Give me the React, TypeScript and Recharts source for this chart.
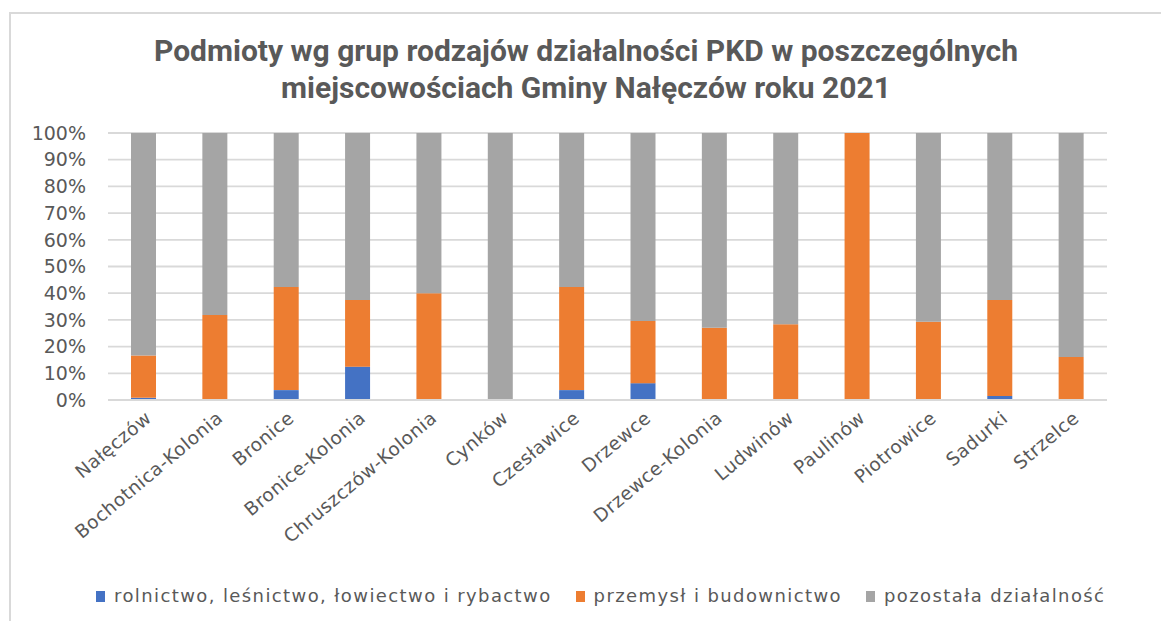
import React from 'react';
import { BarChart, Bar, XAxis, YAxis, CartesianGrid } from 'recharts';

const categories = ['Nałęczów', 'Bochotnica-Kolonia', 'Bronice', 'Bronice-Kolonia', 'Chruszczów-Kolonia', 'Cynków', 'Czesławice', 'Drzewce', 'Drzewce-Kolonia', 'Ludwinów', 'Paulinów', 'Piotrowice', 'Sadurki', 'Strzelce'];
const rolnictwo = [0.8, 0, 3.7, 12.5, 0, 0, 3.7, 6.3, 0, 0, 0, 0, 1.5, 0];
const przemysl = [15.9, 31.8, 38.6, 25, 40, 0, 38.6, 23.3, 27.1, 28.4, 100, 29.3, 36, 16.1];
const pozostala = [83.3, 68.2, 57.7, 62.5, 60, 100, 57.7, 70.4, 72.9, 71.6, 0, 70.7, 62.5, 83.9];
const yTicks = [0, 10, 20, 30, 40, 50, 60, 70, 80, 90, 100];

const seriesNames = ['rolnictwo, leśnictwo, łowiectwo i rybactwo', 'przemysł i budownictwo', 'pozostała działalność'];
const seriesKeys = ['rolnictwo', 'przemysl', 'pozostala'];
const seriesColors = ['#4472C4', '#ED7D31', '#A5A5A5'];

const titleLines = ['Podmioty wg grup rodzajów działalności PKD w poszczególnych', 'miejscowościach Gminy Nałęczów roku 2021'];

const data = categories.map((c, i) => ({
  name: c,
  rolnictwo: rolnictwo[i],
  przemysl: przemysl[i],
  pozostala: pozostala[i],
}));

const TEXT = '#595959';
const FONT = 'DejaVu Sans';

const XTick = (props: any) => {
  const { x, y, payload } = props;
  return (
    <g transform={`translate(${x + 9},${y + 12})`}>
      <text textAnchor="end" transform="rotate(-40)" fill={TEXT} fontSize={18.5} fontFamily={FONT} letterSpacing={0.5}>
        {payload.value}
      </text>
    </g>
  );
};

export default function App() {
  return (
    <div style={{ position: 'absolute', left: 0, top: 0, width: 1161, height: 621, background: '#fff', overflow: 'hidden' }}>
      <div style={{ position: 'absolute', left: 9, top: 12, width: 1200, height: 700, borderLeft: '2px solid #d9d9d9', borderTop: '2px solid #d9d9d9' }} />
      <svg width={1161} height={120} style={{ position: 'absolute', left: 0, top: 0 }}>
        {titleLines.map((t, i) => (
          <text key={i} x={586} y={61 + i * 37} textAnchor="middle" fill={TEXT} fontSize={30} fontWeight="bold" fontFamily="Roboto">
            {t}
          </text>
        ))}
      </svg>
      <div style={{ position: 'absolute', left: 0, top: 0 }}>
        <BarChart width={1161} height={621} data={data} margin={{ top: 133, right: 54, bottom: 0, left: 10 }} barSize={25}>
          <CartesianGrid vertical={false} stroke="#d9d9d9" strokeWidth={1.8} />
          <XAxis dataKey="name" interval={0} tick={<XTick />} tickLine={false} axisLine={{ stroke: '#d9d9d9', strokeWidth: 1.8 }} height={221} />
          <YAxis domain={[0, 100]} ticks={yTicks} interval={0} tickFormatter={(v: number) => `${v}%`} axisLine={false} tickLine={false} width={98} tickMargin={16} tick={{ fill: TEXT, fontSize: 19, fontFamily: FONT }} />
          {seriesKeys.map((k, i) => (
            <Bar key={k} dataKey={k} name={seriesNames[i]} stackId="a" fill={seriesColors[i]} isAnimationActive={false} />
          ))}
        </BarChart>
      </div>
      <div style={{ position: 'absolute', left: 96, top: 584, display: 'flex', fontFamily: FONT, fontSize: 18, color: TEXT, lineHeight: '24px', letterSpacing: '1.4px', whiteSpace: 'nowrap' }}>
        {seriesNames.map((n, i) => (
          <div key={n} style={{ display: 'flex', alignItems: 'center', marginRight: 24 }}>
            <span style={{ display: 'inline-block', width: 9, height: 11, background: seriesColors[i], marginRight: 9 }} />
            <span>{n}</span>
          </div>
        ))}
      </div>
    </div>
  );
}
